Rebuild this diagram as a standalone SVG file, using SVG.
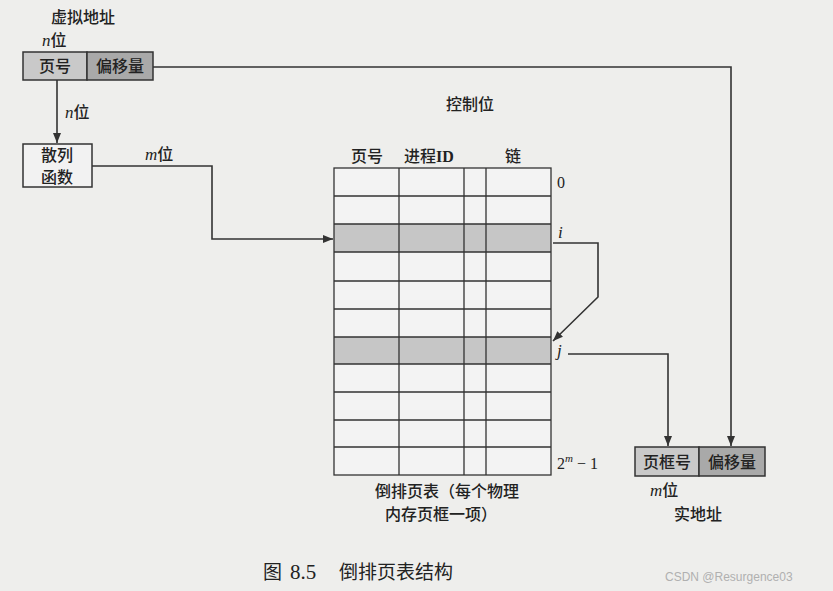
<svg xmlns="http://www.w3.org/2000/svg" width="833" height="591" viewBox="0 0 833 591">
<defs>
<marker id="ah" viewBox="0 0 10 10" refX="10" refY="5" markerWidth="10" markerHeight="10" markerUnits="userSpaceOnUse" orient="auto">
<path d="M0,1 L10,5 L0,9 Z" fill="#333"/>
</marker>
<style>
.t{font-family:"Noto Sans CJK SC","Liberation Serif",serif;font-size:16px;font-weight:500;fill:#222}
.v{font-family:"Liberation Serif",serif;font-style:italic;font-size:17px;fill:#222}
.r{font-family:"Liberation Serif",serif;font-size:16px;fill:#222}
.box{stroke:#333;stroke-width:1.5}
.ln{fill:none;stroke:#333;stroke-width:1.6}
.grid{stroke:#333;stroke-width:1.3;fill:none}
</style>
</defs>
<rect width="833" height="591" fill="#eeeeec"/>

<g id="virtual-address">
<text class="t" x="51" y="23" font-size="15">虚拟地址</text>
<text x="42" y="46"><tspan class="v">n</tspan><tspan class="t" font-size="15">位</tspan></text>
<rect class="box" x="23" y="52" width="64" height="28" fill="#c9c9c9"/>
<rect class="box" x="87" y="52" width="66" height="28" fill="#a9a9a9"/>
<text class="t" x="55" y="72" text-anchor="middle">页号</text>
<text class="t" x="120" y="72" text-anchor="middle">偏移量</text>
</g>

<g id="hash">
<rect class="box" x="23" y="144" width="69" height="43" fill="#f2f2f2"/>
<text class="t" x="57" y="161" font-size="15" text-anchor="middle">散列</text>
<text class="t" x="57" y="183" font-size="15" text-anchor="middle">函数</text>
</g>

<g id="table">
<text class="t" x="470" y="110" text-anchor="middle">控制位</text>
<text class="t" x="367" y="162" text-anchor="middle">页号</text>
<text x="404" y="162"><tspan class="t">进程</tspan><tspan class="r" font-weight="bold" font-size="17">ID</tspan></text>
<text class="t" x="513" y="162" text-anchor="middle">链</text>
<rect x="334" y="168" width="217" height="307" fill="#f3f3f3"/>
<rect x="334" y="224" width="217" height="28" fill="#c6c6c6"/>
<rect x="334" y="337" width="217" height="27" fill="#c6c6c6"/>
<rect class="grid" x="334" y="168" width="217" height="307"/>
<path class="grid" d="M399,168V475 M464,168V475 M486,168V475 M334,196H551 M334,224H551 M334,252H551 M334,281H551 M334,309H551 M334,337H551 M334,364H551 M334,392H551 M334,420H551 M334,447H551"/>
<text class="r" x="557" y="188">0</text>
<text class="v" x="558" y="238">i</text>
<text class="v" x="557" y="356">j</text>
<text class="r" x="557" y="469">2<tspan font-style="italic" font-size="11" dy="-7">m</tspan><tspan dy="7"> − 1</tspan></text>
<text class="t" x="447" y="497" font-size="15.5" text-anchor="middle">倒排页表（每个物理</text>
<text class="t" x="441" y="520" font-size="15.5" text-anchor="middle">内存页框一项）</text>
</g>

<g id="real-address">
<rect class="box" x="635" y="447" width="64" height="29" fill="#c9c9c9"/>
<rect class="box" x="699" y="447" width="66" height="29" fill="#a9a9a9"/>
<text class="t" x="667" y="468" text-anchor="middle">页框号</text>
<text class="t" x="732" y="468" text-anchor="middle">偏移量</text>
<text x="650" y="496"><tspan class="v">m</tspan><tspan class="t">位</tspan></text>
<text class="t" x="698" y="520" text-anchor="middle">实地址</text>
</g>

<g id="connectors">
<path class="ln" d="M57,80V143" marker-end="url(#ah)"/>
<text x="65" y="118"><tspan class="v">n</tspan><tspan class="t">位</tspan></text>
<path class="ln" d="M92,166H212V239H333" marker-end="url(#ah)"/>
<text x="145" y="160"><tspan class="v">m</tspan><tspan class="t">位</tspan></text>
<path class="ln" d="M553,243H598V297L553,341" marker-end="url(#ah)"/>
<path class="ln" d="M568,354H668V446" marker-end="url(#ah)"/>
<path class="ln" d="M153,67H731V446" marker-end="url(#ah)"/>
</g>

<text y="579" font-family="Noto Sans CJK SC, Liberation Serif, serif" font-size="19" fill="#222"><tspan x="263">图</tspan><tspan x="290" font-family="Liberation Serif" font-size="21">8.5</tspan><tspan x="339">倒排页表结构</tspan></text>
<text x="665" y="581" font-family="Liberation Sans, sans-serif" font-size="12" fill="#b0b0b0">CSDN @Resurgence03</text>
</svg>
